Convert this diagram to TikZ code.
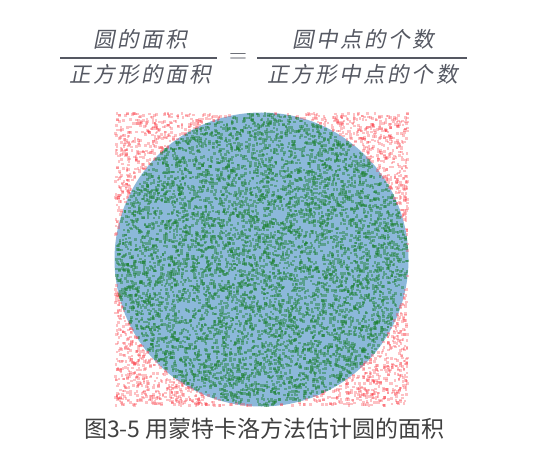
\documentclass[tikz,border=0pt]{standalone}
\usepackage{fontspec}
\newfontfamily\cjk{Noto Sans CJK SC}
\newfontfamily\cjkit[FakeSlant=0.2,LetterSpace=12]{Noto Sans CJK SC}
\definecolor{fgray}{RGB}{85,88,98}
\definecolor{cgray}{RGB}{64,64,64}
\definecolor{diskblue}{RGB}{140,184,218}
\definecolor{dotgreen}{RGB}{30,130,50}
\definecolor{dotred}{RGB}{250,50,60}

\begin{document}
\begin{tikzpicture}[x=1pt,y=-1pt,
  frac/.style={font=\fontsize{21.5}{25}\cjkit,text=fgray,inner sep=0pt},
  bar/.style={draw=fgray,line width=1.5pt},
  rdots/.style={fill=dotred,fill opacity=0.3},
  gdots/.style={fill=dotgreen,fill opacity=0.45},
  captext/.style={font=\fontsize{23}{28}\cjk,text=cgray,inner sep=0pt}
]
\useasboundingbox (0,0) rectangle (537,465);

% ---------------- formula
\node[frac] (numL) at (140,39) {圆的面积};
\node[frac] (denL) at (140,74) {正方形的面积};
\node[text=fgray,inner sep=0pt,font=\fontsize{24}{24}\selectfont] (eq) at (238,58) {$=$};
\node[frac] (numR) at (363,39) {圆中点的个数};
\node[frac] (denR) at (362.5,74) {正方形中点的个数};
\draw[bar] (60,58) -- (217,58);
\draw[bar] (257,58) -- (467,58);

% ---------------- disk and random points
\fill[diskblue] (261.5,259.5) circle (147);
% red: points outside the circle
\begin{scope}[rdots]
  \pgfmathsetseed{537}
  \foreach \i in {1,...,8000}{
    \pgfmathsetmacro{\pu}{rand}
    \pgfmathsetmacro{\pv}{rand}
    \pgfmathtruncatemacro{\inside}{(\pu*\pu+\pv*\pv)<1}
    \ifnum\inside=0
      \fill ({260.2+146.2*\pu},{258.2+146.2*\pv}) rectangle ++(2.6,2.6);
    \fi
  }
\end{scope}
% green: same points, inside the circle
\begin{scope}[gdots]
  \pgfmathsetseed{537}
  \foreach \i in {1,...,8000}{
    \pgfmathsetmacro{\pu}{rand}
    \pgfmathsetmacro{\pv}{rand}
    \pgfmathtruncatemacro{\inside}{(\pu*\pu+\pv*\pv)<1}
    \ifnum\inside=1
      \fill ({260.2+146.2*\pu},{258.2+146.2*\pv}) rectangle ++(2.6,2.6);
    \fi
  }
\end{scope}

% ---------------- caption
\node[captext] (caption) at (264.5,429) {图3-5 用蒙特卡洛方法估计圆的面积};
\end{tikzpicture}
\end{document}
